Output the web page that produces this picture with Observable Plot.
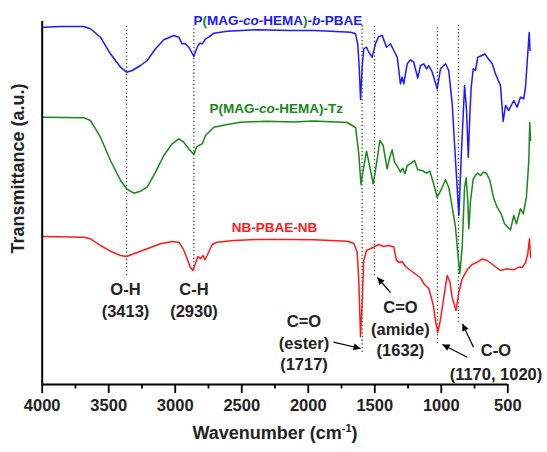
<!DOCTYPE html>
<html><head><meta charset="utf-8">
<script src="https://cdn.jsdelivr.net/npm/d3@7"></script>
<script src="https://cdn.jsdelivr.net/npm/@observablehq/plot@0.6"></script>
<style>body{margin:0;background:#fff}</style>
</head><body><div id="chart"></div>
<script>
// Wavenumbers (as read on the drawn axis) and transmittance (a.u.)
const blueWN = [3988,3862,3690,3637,3562,3487,3411,3366,3323,3261,3211,3148,3086,3011,2973,2948,2923,2898,2860,2835,2815,2797,2772,2748,2710,2609,2384,2134,1958,1833,1682,1645,1628,1617,1607,1595,1583,1562,1545,1519,1495,1470,1444,1412,1382,1357,1331,1307,1294,1282,1256,1231,1207,1177,1156,1131,1111,1094,1068,1031,1006,968,944,918,893,868,848,825,810,797,784,775,760,743,726,693,673,655,617,593,555,535,517,493,455,430,405,380,367,350,339,333];
const blueT = [357.3,358,358,355.7,347.3,330.7,317.3,312.3,314,319,324,335.7,344.7,349,347.3,340.7,340.7,337.3,328,337.3,341.3,340.7,345.7,347.3,351.3,353.3,354.7,354,354,353.3,352.3,350.7,340.7,317.3,285,317.3,335.7,337.3,332.3,327.3,340.7,348,349,337.3,340.7,334,327.3,300.7,307.3,300.7,320.7,324.7,322.3,306.5,319,320.7,315.7,319,312.3,295.7,315.7,320.7,314,280.7,224,169,234,299,274,227.3,274,297.3,315.7,314,327.3,329,330.7,327.3,320.7,310.7,299,263,279,274,284,277.3,287.3,285.7,297.3,330.7,352,334];
const greenWN = [3990,3687,3637,3599,3562,3487,3411,3366,3311,3261,3211,3148,3086,3023,2973,2936,2898,2860,2840,2823,2797,2772,2710,2609,2509,2309,2109,1961,1707,1670,1645,1632,1620,1604,1583,1562,1537,1512,1487,1462,1437,1407,1387,1369,1352,1327,1307,1289,1274,1256,1226,1201,1177,1144,1111,1086,1061,1031,998,968,944,918,893,880,861,843,825,813,801,793,780,760,743,726,705,685,660,635,605,580,550,525,480,455,435,405,384,360,342,335,329];
const greenT = [267.3,266.7,264,255.7,247.3,224,204,195.7,191.3,193.3,197.3,212.3,229,240.7,245.7,242.3,235.7,230,237.3,239,240.7,249,257.3,260,262.3,263.3,262.5,263.5,262,259,257,244,230.7,200,217.3,233.3,217.3,200.7,220.7,244,239,215.7,227.3,234.7,222.3,217.3,212.3,216.3,210.7,219,221.3,224,214.7,214,211.3,213.3,202.3,187.3,195.7,204.7,197.3,177.3,157.3,137.3,110.7,137.3,197.3,206.7,184,155.7,184,205.7,209,211.3,209,212.3,211.3,204,185.7,177.3,170.7,160.7,154.7,169,160.7,175.7,170.7,187.3,224,262,244];
const redWN = [3990,3687,3637,3562,3487,3411,3366,3311,3211,3111,3023,2973,2940,2910,2890,2868,2848,2830,2810,2790,2778,2760,2740,2722,2685,2560,2384,2134,1958,1707,1658,1632,1620,1607,1595,1583,1562,1537,1507,1470,1432,1395,1357,1337,1312,1294,1269,1231,1194,1156,1126,1094,1061,1044,1026,1006,981,956,936,918,889,868,843,805,768,730,693,655,605,555,505,455,417,392,367,350,337,329];
const redT = [148,147.3,145.7,139,133.3,129,128,130.7,135.7,140.7,143,142.3,135.7,125.7,118,114,120.7,128,125.7,129,124.7,129,134.7,140,142.3,144,145,145,144.7,143.3,141.3,132.3,104,48,80.7,124,134,135.7,137.3,140,138,139,137.5,124,122,123,118,114,110.5,106.5,100,96,80,64,52,65,87.3,109,103,87,74,92,105.7,114.7,120,122.3,125.5,124,119,114,115.7,114.7,117.3,117.3,121.5,130.7,145.7,127];

const seriesNames = ["P(MAG-co-HEMA)-b-PBAE", "P(MAG-co-HEMA)-Tz", "NB-PBAE-NB"];
const seriesLabelWN = [2863, 2742, 2575];
const seriesLabelT = [363.5, 276, 157];

const majorTicks = [4000,3500,3000,2500,2000,1500,1000,500];
const minorTicks = [3750,3250,2750,2250,1750,1250,750];

// dotted marker lines
const peakWN = [3366, 2860, 1595, 1502, 1029, 871];
const peakLow = [109, 114, 32, 109, 41, 62];
const peakHigh = [359, 359, 359, 359, 359, 359];

// annotations
const annWN = [3374, 2859, 2032, 1307];
const annT = [85.5, 85.5, 42.5, 56.5];
const annText = ["O-H\n(3413)", "C-H\n(2930)", "C=O\n(ester)\n(1717)", "C=O\n(amide)\n(1632)"];
const coWN = [589];
const coT = [24];
const coText = ["C-O\n(1170, 1020)"];

// arrows (tail -> head)
const arrX1 = [1810, 1382, 805, 758];
const arrY1 = [42.3, 92, 27.3, 37.3];
const arrX2 = [1607, 1480, 991, 841];
const arrY2 = [36, 107, 40, 60.7];

const xTitle = "Wavenumber (cm-1)";
const yTitle = "Transmittance (a.u.)";

const colors = ["#1a1aff", "#188818", "#ff1a1a"];

const rows = (wn, t) => wn.map((w, i) => ({w, t: t[i]}));
const blue = rows(blueWN, blueT), green = rows(greenWN, greenT), red = rows(redWN, redT);
const peaks = peakWN.map((w, i) => ({w, lo: peakLow[i], hi: peakHigh[i]}));
const anns = annWN.map((w, i) => ({w, t: annT[i], s: annText[i]}));
const cos = coWN.map((w, i) => ({w, t: coT[i], s: coText[i]}));
const arrows = arrX1.map((x1, i) => ({x1, y1: arrY1[i], x2: arrX2[i], y2: arrY2[i]}));
const labels = seriesNames.map((s, i) => ({s, w: seriesLabelWN[i], t: seriesLabelT[i], c: colors[i]}));

const FONT = "'Liberation Sans', Arial, Helvetica, sans-serif";

const plot = Plot.plot({
  width: 547, height: 452,
  marginLeft: 41.7, marginRight: 39.7, marginTop: 21, marginBottom: 68,
  style: {fontFamily: FONT, background: "#fff", overflow: "visible"},
  x: {domain: [4000, 500], axis: null, label: null},
  y: {domain: [0, 363], axis: null, label: null},
  marks: [
    Plot.ruleX(peaks, {x: "w", y1: "lo", y2: "hi", stroke: "#444", strokeWidth: 1.3, strokeDasharray: "1.3,2.4"}),
    Plot.line(blue, {x: "w", y: "t", stroke: colors[0], strokeWidth: 1.5}),
    Plot.line(green, {x: "w", y: "t", stroke: colors[1], strokeWidth: 1.5}),
    Plot.line(red, {x: "w", y: "t", stroke: colors[2], strokeWidth: 1.5}),
    Plot.link(arrows, {x1: "x1", y1: "y1", x2: "x2", y2: "y2", stroke: "#000", strokeWidth: 1.2}),
    Plot.text(labels, {x: "w", y: "t", text: "s", fill: "c", textAnchor: "start", fontSize: 13.5, fontWeight: "bold"}),
    Plot.text(anns, {x: "w", y: "t", text: "s", fontSize: 16.5, fontWeight: "bold", lineHeight: 1.3, fill: "#222"}),
    Plot.text(cos, {x: "w", y: "t", text: "s", fontSize: 16.5, fontWeight: "bold", lineHeight: 1.42, fill: "#222"}),
    Plot.ruleY([0], {strokeWidth: 2}),
    Plot.ruleX([4000], {strokeWidth: 2}),
    Plot.axisX({ticks: majorTicks, tickSize: 9, tickPadding: 6, fontSize: 16.5, fontWeight: "bold", strokeWidth: 1.8, tickFormat: d3.format("d"), label: null, fill: "#222"}),
    Plot.axisX({ticks: minorTicks, tickSize: 4.5, strokeWidth: 1.8, tickFormat: () => "", label: null}),
    Plot.text([xTitle], {x: 2250, y: 0, dy: 49, fontSize: 18, fontWeight: "bold", fill: "#222"}),
    Plot.text([yTitle], {x: 4000, y: 216, dx: -24, rotate: -90, fontSize: 18, fontWeight: "bold", fill: "#222"})
  ]
});

// post-process: arrowheads, rich text
const svg = d3.select(plot);
const defs = svg.append("defs");
defs.append("marker").attr("id", "ahead").attr("viewBox", "0 0 10 10")
  .attr("refX", 10).attr("refY", 5).attr("markerWidth", 8).attr("markerHeight", 7)
  .attr("markerUnits", "userSpaceOnUse").attr("orient", "auto")
  .append("path").attr("d", "M0,0L10,5L0,10z").attr("fill", "#000");
svg.selectAll("g[aria-label='link'] path").attr("marker-end", "url(#ahead)");

function rich(el, parts) {
  el.textContent = "";
  for (const p of parts) {
    const t = document.createElementNS("http://www.w3.org/2000/svg", "tspan");
    t.textContent = p.s;
    if (p.fill) t.setAttribute("fill", p.fill);
    if (p.italic) t.setAttribute("font-style", "italic");
    if (p.size) t.setAttribute("font-size", p.size);
    if (p.dy) t.setAttribute("dy", p.dy);
    el.appendChild(t);
  }
}
svg.selectAll("text").each(function() {
  const s = this.textContent;
  if (s === seriesNames[0]) {
    rich(this, [{s: "P"}, {s: "(", fill: colors[1]}, {s: "MAG-"}, {s: "co", italic: true}, {s: "-HEMA"},
      {s: ")", fill: colors[1]}, {s: "-"}, {s: "b", italic: true}, {s: "-PBAE"}]);
  } else if (s === seriesNames[1]) {
    rich(this, [{s: "P(MAG-"}, {s: "co", italic: true}, {s: "-HEMA)-Tz"}]);
  } else if (s === xTitle) {
    rich(this, [{s: "Wavenumber (cm"}, {s: "-1", size: 11, dy: -7}, {s: ")", dy: 7}]);
  }
});

document.getElementById("chart").appendChild(plot);
</script>
</body></html>
